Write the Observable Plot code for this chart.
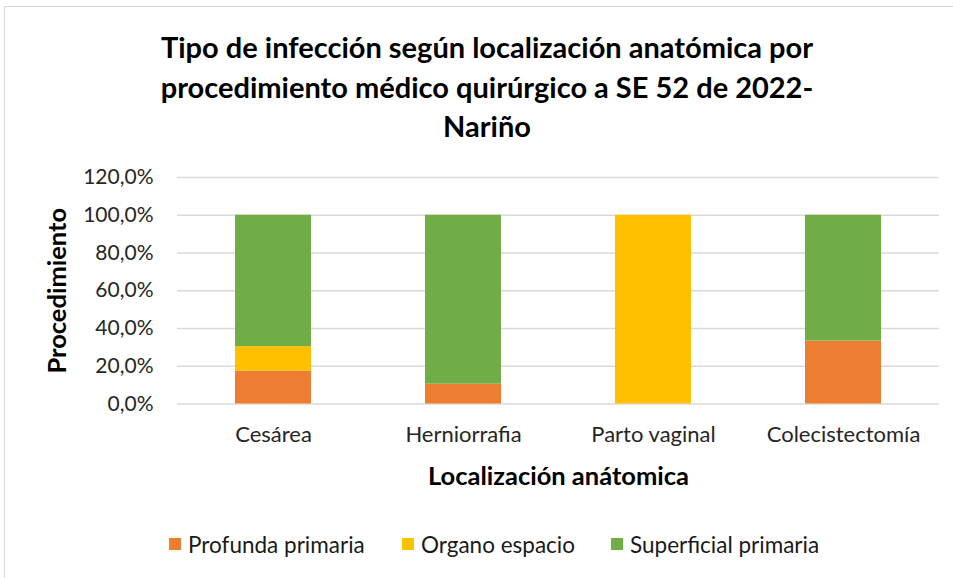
<!DOCTYPE html>
<html>
<head>
<meta charset="utf-8">
<script src="https://cdn.jsdelivr.net/npm/d3@7"></script>
<script src="https://cdn.jsdelivr.net/npm/@observablehq/plot@0.6"></script>
<style>
  html, body { margin: 0; padding: 0; background: #fff; overflow: hidden; }
  #wrap { position: relative; width: 953px; height: 578px; font-family: Lato, "Open Sans", sans-serif; }
  #frame { position: absolute; left: 4px; top: 6px; width: 1100px; height: 800px; border: 1.5px solid #d9d9d9; box-sizing: border-box; }
  #title { position: absolute; left: 0; top: 27px; width: 974px; text-align: center; font-weight: bold; font-size: 29px; line-height: 39.5px; color: #000; }
  #chart { position: absolute; left: 0; top: 160px; }
  #chart svg { overflow: visible; }
  #chart g[aria-label="y-axis label"] text, #chart g[aria-label="x-axis label"] text { font-weight: bold; font-size: 25.5px; fill: #000; }
  #legend { position: absolute; top: 530px; left: 0; width: 953px; height: 28px; font-size: 22.5px; color: #1a1a1a; }
  .li { position: absolute; top: 0; height: 28px; display: flex; align-items: center; white-space: nowrap; }
  .sw { width: 12px; height: 12px; margin-right: 7px; display: inline-block; }
</style>
</head>
<body>
<div id="wrap">
  <div id="frame"></div>
  <div id="title">Tipo de infección según localización anatómica por<br>procedimiento médico quirúrgico a SE 52 de 2022-<br>Nariño</div>
  <div id="chart"></div>
  <div id="legend"></div>
</div>
<script>
const categories = ["Cesárea", "Herniorrafia", "Parto vaginal", "Colecistectomía"];
const seriesNames = ["Profunda primaria", "Organo espacio", "Superficial primaria"];
const seriesColors = ["#ED7D31", "#FFC000", "#70AD47"];
const profunda = [17.4, 10.5, 0, 33.3];
const organo = [13.0, 0, 100, 0];
const superficial = [69.6, 89.5, 0, 66.7];
const yTicks = [0, 20, 40, 60, 80, 100, 120];

const seriesValues = [profunda, organo, superficial];
const rows = [];
seriesNames.forEach((s, i) => {
  categories.forEach((c, j) => rows.push({cat: c, series: s, value: seriesValues[i][j]}));
});

const fmt = d => d.toFixed(1).replace(".", ",") + "%";

const plot = Plot.plot({
  width: 953,
  height: 330,
  marginTop: 17,
  marginBottom: 86.5,
  marginLeft: 177,
  marginRight: 14,
  style: { fontFamily: "Lato, 'Open Sans', sans-serif", fontSize: "21px", color: "#262626", background: "transparent" },
  x: { domain: categories, paddingInner: 0.6, paddingOuter: 0.3 },
  y: { domain: [0, 120] },
  color: { domain: seriesNames, range: seriesColors },
  marks: [
    Plot.gridY(yTicks, { stroke: "#d9d9d9", strokeOpacity: 1, strokeWidth: 1.5 }),
    Plot.barY(rows, Plot.stackY({ x: "cat", y: "value", fill: "series", order: seriesNames })),
    Plot.axisY(yTicks, { tickSize: 0, tickPadding: 24, tickFormat: fmt, label: "Procedimiento", labelArrow: "none", labelAnchor: "center", labelOffset: 130, fontSize: 21 }),
    Plot.axisX({ tickSize: 0, tickPadding: 22, label: "Localización anátomica", labelArrow: "none", labelAnchor: "center", labelOffset: 81, fontSize: 22 })
  ]
});
document.getElementById("chart").appendChild(plot);

const legend = document.getElementById("legend");
const legendX = [169, 402, 611];
seriesNames.forEach((s, i) => {
  const d = document.createElement("div");
  d.className = "li";
  d.style.left = legendX[i] + "px";
  d.innerHTML = `<span class="sw" style="background:${seriesColors[i]}"></span><span>${s}</span>`;
  legend.appendChild(d);
});
</script>
</body>
</html>
